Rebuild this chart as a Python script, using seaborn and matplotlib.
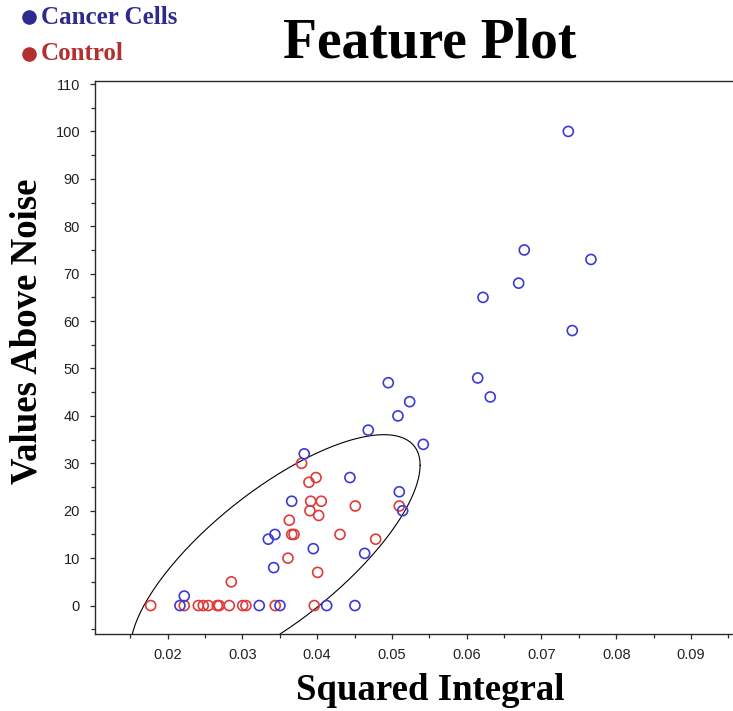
import numpy as np
import pandas as pd
import matplotlib
matplotlib.use("Agg")
import matplotlib.pyplot as plt
from matplotlib.lines import Line2D
from matplotlib.ticker import MultipleLocator, FormatStrFormatter
import seaborn as sns

# Control samples: squared integral vs. values above noise
control_x = [0.03792, 0.03984, 0.03890, 0.03913, 0.04055, 0.04510, 0.05098,
             0.03903, 0.04020, 0.03627, 0.03660, 0.03690, 0.04305, 0.04782,
             0.03609, 0.04006, 0.02851,
             0.01773, 0.02222, 0.02410, 0.02476, 0.02543, 0.02664, 0.02690,
             0.02824, 0.03003, 0.03047, 0.03439, 0.03961]
control_y = [30, 27, 26, 22, 22, 21, 21,
             20, 19, 18, 15, 15, 15, 14,
             10, 7, 5,
             0, 0, 0, 0, 0, 0, 0,
             0, 0, 0, 0, 0]

# Cancer cell samples
cancer_x = [0.07359, 0.06770, 0.07662, 0.06695, 0.06218, 0.07412, 0.06147,
            0.06315, 0.04951, 0.05237, 0.05080, 0.04683, 0.05419, 0.03827,
            0.04438, 0.05098, 0.03659, 0.05143, 0.03435, 0.03346, 0.03948,
            0.04635, 0.03418, 0.02222,
            0.02164, 0.03225, 0.03502, 0.04127, 0.04505]
cancer_y = [100, 75, 73, 68, 65, 58, 48,
            44, 47, 43, 40, 37, 34, 32,
            27, 24, 22, 20, 15, 14, 12,
            11, 8, 2,
            0, 0, 0, 0, 0]

groups = ["Cancer Cells", "Control"]
group_colors = {"Cancer Cells": "#3a3ad8", "Control": "#e03a3a"}
legend_text_colors = {"Cancer Cells": "#2e2a8e", "Control": "#b3302f"}

# 95% region of the control group (centre and scaled covariance)
ellipse_center = [0.0344, 10.35]
ellipse_cov = [[3.75e-4, 0.373],
               [0.373, 660.0]]

x_ticks = [0.02, 0.03, 0.04, 0.05, 0.06, 0.07, 0.08, 0.09]
y_ticks = list(range(0, 111, 10))

df = pd.DataFrame({
    "Squared Integral": control_x + cancer_x,
    "Values Above Noise": control_y + cancer_y,
    "group": ["Control"] * len(control_x) + ["Cancer Cells"] * len(cancer_x),
})

sns.set_theme(style="ticks")
plt.rcParams["font.family"] = ["Liberation Sans", "DejaVu Sans"]

fig = plt.figure(figsize=(7.33, 7.11), dpi=100)
ax = fig.add_axes([95 / 733, 77 / 711, 670 / 733, 553.3 / 711])

sns.scatterplot(data=df, x="Squared Integral", y="Values Above Noise",
                hue="group", palette=group_colors, s=52, linewidth=1.2,
                legend=False, ax=ax, zorder=3)
for coll in ax.collections:
    fc = coll.get_facecolors()
    coll.set_edgecolors(fc)
    coll.set_facecolors("none")

# confidence ellipse
t = np.linspace(0, 2 * np.pi, 400)
L = np.linalg.cholesky(np.array(ellipse_cov))
pts = np.array(ellipse_center)[:, None] + L @ np.vstack([np.cos(t), np.sin(t)])
ax.plot(pts[0], pts[1], color="black", lw=0.8, zorder=2)

ax.set_xlim(0.01028, 0.0999)
ax.set_ylim(-6.0, 110.7)
ax.set_xticks(x_ticks)
ax.set_yticks(y_ticks)
ax.xaxis.set_major_formatter(FormatStrFormatter("%.2f"))
ax.xaxis.set_minor_locator(MultipleLocator(0.005))
ax.yaxis.set_minor_locator(MultipleLocator(5))
ax.set_xlabel("")
ax.set_ylabel("")

for side in ["left", "bottom", "top", "right"]:
    ax.spines[side].set_color("#2a2a2a")
    ax.spines[side].set_linewidth(1.0)
ax.tick_params(which="major", direction="out", length=3.8, width=0.9,
               color="#2a2a2a", labelsize=10.5, labelcolor="#222222")
ax.tick_params(which="minor", direction="out", length=2.6, width=0.9,
               color="#2a2a2a")
ax.tick_params(axis="x", which="major", pad=6.5)
ax.tick_params(axis="y", which="major", pad=7)

serif = ["Liberation Serif", "DejaVu Serif"]
fig.text(430 / 733, 1 - 58 / 711, "Feature Plot", family=serif,
         fontweight="bold", fontsize=40, ha="center", va="baseline",
         color="black")
fig.text(430 / 733, 1 - 690 / 711, "Squared Integral", family=serif,
         fontweight="bold", fontsize=26.5, ha="center", va="center",
         color="black")
fig.text(27 / 733, 1 - 331 / 711, "Values Above Noise", family=serif,
         fontweight="bold", fontsize=26.5, ha="center", va="center",
         rotation=90, color="black")

# legend entries in the top-left corner
legend_rows = [(groups[0], 17), (groups[1], 54)]
for name, yc in legend_rows:
    fig.add_artist(Line2D([29.3 / 733], [1 - yc / 711],
                          transform=fig.transFigure, marker="o",
                          markersize=9.5, color=legend_text_colors[name],
                          linestyle="none"))
    fig.text(41 / 733, 1 - yc / 711, name, family=serif, fontweight="bold",
             fontsize=18, ha="left", va="center",
             color=legend_text_colors[name])

fig.savefig("out.png", dpi=100, facecolor="white")
